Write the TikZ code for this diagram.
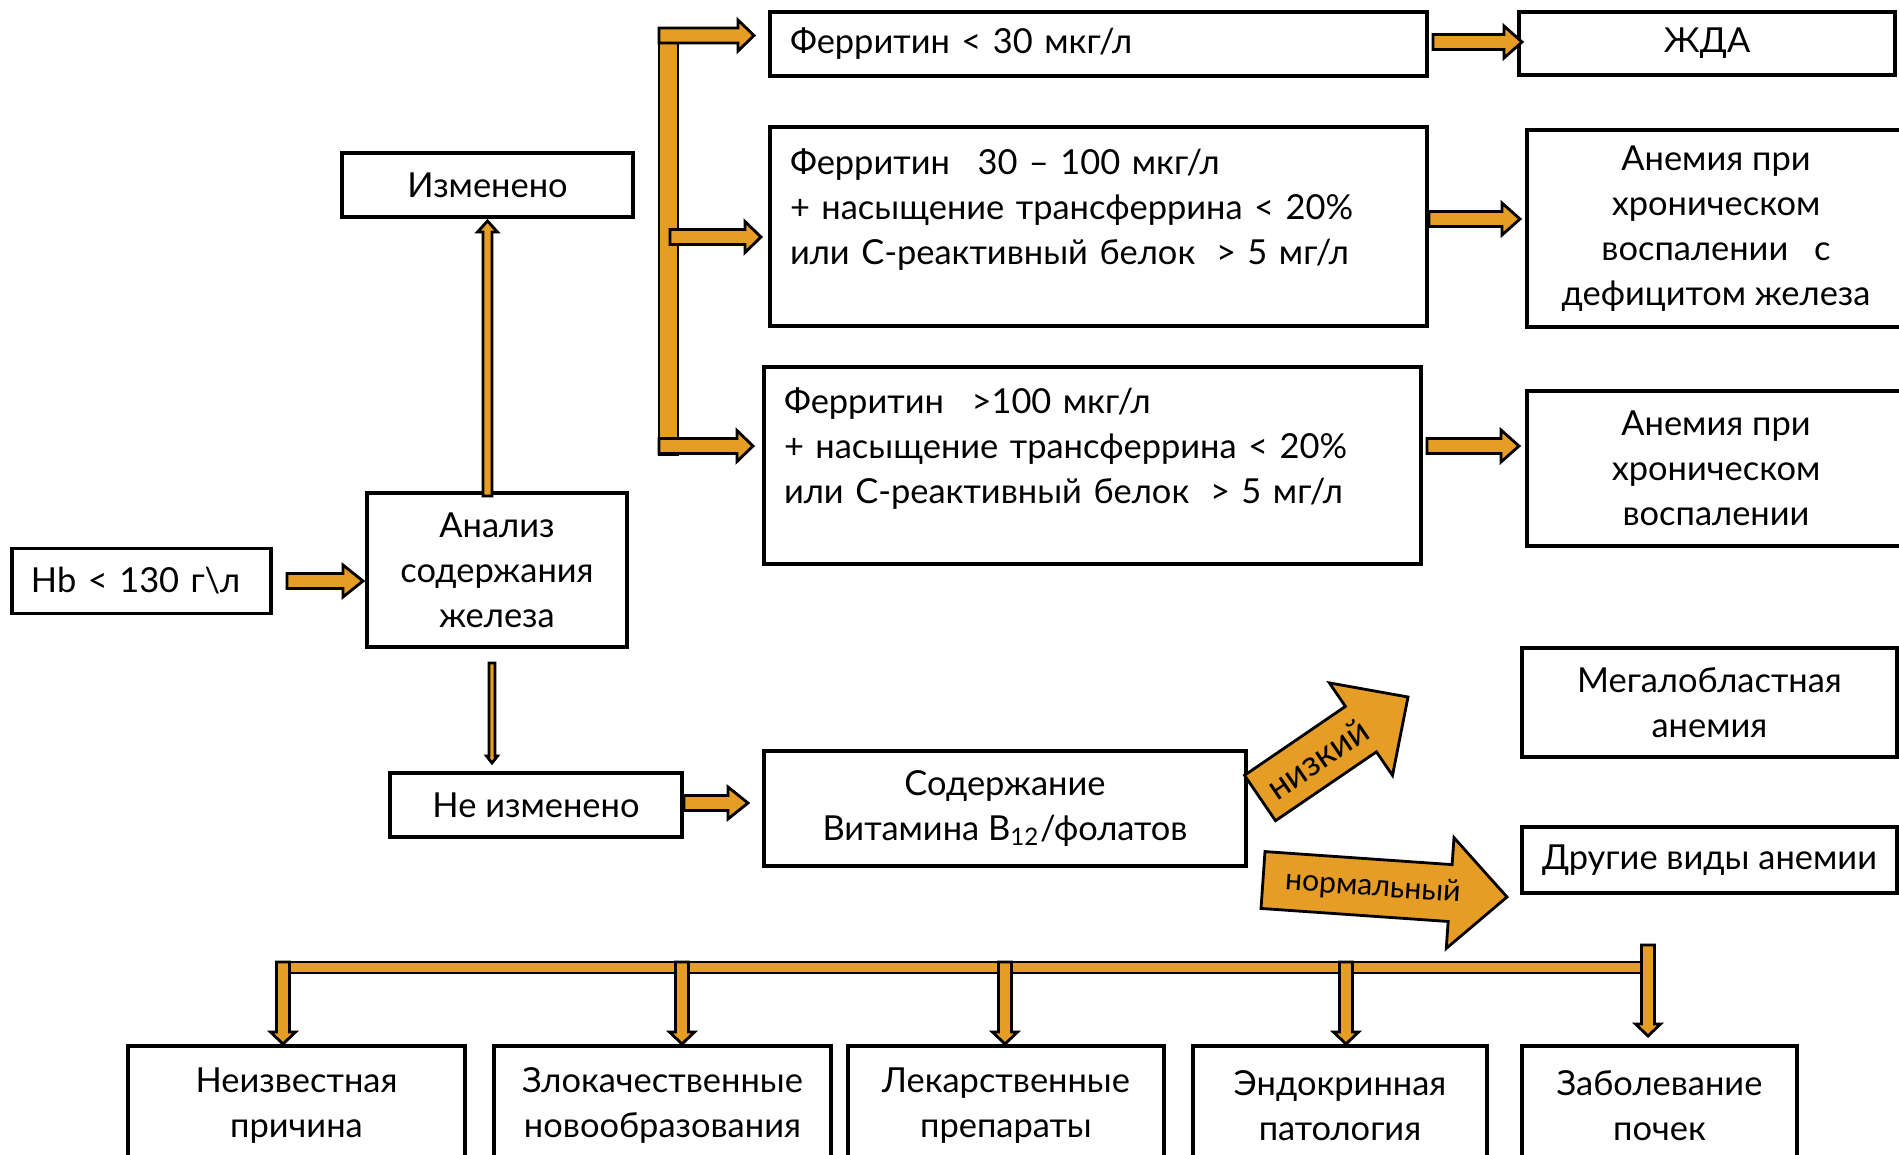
\documentclass[tikz,border=0pt]{standalone}
\usepackage{fontspec}
\newfontfamily\chartfont{Lato}
\definecolor{arrowfill}{cmyk}{0.00,0.33,0.86,0.09}
\usepackage{tikz}
\usetikzlibrary{calc}
\tikzstyle{chart}=[inner sep=0pt, outer sep=0pt]
\tikzstyle{cell}=[draw=black, line width=1pt, align=center, inner sep=0pt]
\tikzstyle{barrow}=[draw=black, fill=arrowfill, line width=0.8pt, line join=miter]
% tail, tip, half shaft, half head, head length
\newcommand*{\blockarrow}[5]{%
  \coordinate (hd) at ($(#2)!#5!(#1)$);
  \filldraw[barrow] ($(#1)!#3!90:(#2)$) -- ($(hd)!#3!90:(#2)$) -- ($(hd)!#4!90:(#2)$) -- (#2)
    -- ($(hd)!#4!-90:(#2)$) -- ($(hd)!#3!-90:(#2)$) -- ($(#1)!#3!-90:(#2)$) -- cycle;
}

\begin{document}
\begin{tikzpicture}[chart]
    \chartfont \fontsize{9.8}{12.8}\selectfont
        \path [use as bounding box] (0,0) rectangle (18.99,-11.54);
        % left column
        \node [cell, minimum width=2.59cm, minimum height=0.65cm, text width=2.21cm, align=left] (hb) at (1.415,-5.81) {Hb < 130 г\textbackslash л};
        \node [cell, minimum width=2.60cm, minimum height=1.54cm] (anal) at (4.97,-5.70) {Анализ\\содержания\\железа};
        \node [cell, minimum width=2.91cm, minimum height=0.64cm] (izm) at (4.875,-1.85) {Изменено};
        \node [cell, minimum width=2.92cm, minimum height=0.64cm] (neizm) at (5.36,-8.05) {Не изменено};
        % ferritin
        \node [cell, minimum width=6.57cm, minimum height=0.64cm, text width=6.17cm, align=left] (f1) at (10.985,-0.44) {Ферритин < 30 мкг/л};
        \node [cell, minimum width=6.57cm, minimum height=1.99cm, text width=6.17cm, align=left] (f2) at (10.985,-2.265)
            {Ферритин\hspace{0.8em}30 – 100 мкг/л\\+ насыщение трансферрина < 20\%\\или С-реактивный белок\hspace{0.6em}> 5 мг/л\\[-5.5pt]\strut};
        \node [cell, minimum width=6.57cm, minimum height=1.97cm, text width=6.17cm, align=left] (f3) at (10.925,-4.655)
            {Ферритин\hspace{0.8em}>100 мкг/л\\+ насыщение трансферрина < 20\%\\или С-реактивный белок\hspace{0.6em}> 5 мг/л\\[-5.5pt]\strut};
        % diagnoses
        \node [cell, minimum width=3.76cm, minimum height=0.63cm] (zhda) at (17.07,-0.435) {ЖДА};
        \node [cell, minimum width=3.78cm, minimum height=1.97cm] (ahv1) at (17.16,-2.285) {Анемия при\\хроническом\\воспалении\hspace{0.75em}с\\дефицитом железа};
        \node [cell, minimum width=3.78cm, minimum height=1.55cm] (ahv2) at (17.16,-4.685) {Анемия при\\хроническом\\воспалении};
        \node [cell, minimum width=4.82cm, minimum height=1.15cm] (vit) at (10.05,-8.085) {Содержание\\Витамина B\textsubscript{12}/фолатов};
        \node [cell, minimum width=3.75cm, minimum height=1.09cm] (mega) at (17.095,-7.025) {Мегалобластная\\анемия};
        \node [cell, minimum width=3.75cm, minimum height=0.66cm] (other) at (17.095,-8.60) {Другие виды анемии};
        % causes
        \node [cell, minimum width=3.37cm, minimum height=1.19cm] (b1) at (2.965,-11.055) {Неизвестная\\причина};
        \node [cell, minimum width=3.37cm, minimum height=1.19cm] (b2) at (6.625,-11.055) {Злокачественные\\новообразования};
        \node [cell, minimum width=3.16cm, minimum height=1.19cm] (b3) at (10.06,-11.055) {Лекарственные\\препараты};
        \node [cell, minimum width=2.94cm, minimum height=1.19cm] (b4) at (13.40,-11.055) {Эндокринная\\патология};
        \node [cell, minimum width=2.75cm, minimum height=1.19cm] (b5) at (16.595,-11.055) {Заболевание\\почек};

        % left arrows
        \coordinate (hbout) at ($(hb.east)+(0.16,0)$);
        \coordinate (analin) at ($(anal.west |- hb.east)+(-0.04,0)$);
        \blockarrow{hbout}{analin}{0.075cm}{0.16cm}{0.2cm}
        \coordinate (analup) at ($(izm.south |- anal.north)+(0,-0.03)$);
        \coordinate (izmin) at ($(izm.south)+(0,-0.04)$);
        \blockarrow{analup}{izmin}{0.045cm}{0.1cm}{0.11cm}
        \coordinate (analdown) at ($(anal.south)+(-0.05,-0.16)$);
        \coordinate (neizmin) at ($(analdown |- neizm.north)+(0,0.10)$);
        \blockarrow{analdown}{neizmin}{0.03cm}{0.055cm}{0.07cm}
        \coordinate (neizmout) at ($(neizm.east)+(0.02,0.02)$);
        \coordinate (vitin) at ($(vit.west |- neizmout)+(-0.16,0)$);
        \blockarrow{neizmout}{vitin}{0.075cm}{0.16cm}{0.2cm}

        % bracket
        \coordinate (brtop) at (6.685,-0.28);
        \coordinate (brbot) at (6.685,-4.55);
        \filldraw [barrow] ($(brtop)+(-0.095,0)$) rectangle ($(brbot)+(0.095,0)$);
        \coordinate (br1) at (6.59,-0.355);
        \coordinate (f1in) at ($(f1.west |- br1)+(-0.16,0)$);
        \blockarrow{br1}{f1in}{0.075cm}{0.155cm}{0.16cm}
        \coordinate (br2) at (6.70,-2.37);
        \coordinate (f2in) at ($(f2.west |- br2)+(-0.09,0)$);
        \blockarrow{br2}{f2in}{0.075cm}{0.155cm}{0.16cm}
        \coordinate (br3) at (6.59,-4.46);
        \coordinate (f3in) at ($(f3.west |- br3)+(-0.11,0)$);
        \blockarrow{br3}{f3in}{0.075cm}{0.155cm}{0.16cm}

        % right arrows
        \coordinate (f1out) at ($(f1.east)+(0.06,0.02)$);
        \coordinate (zhdain) at ($(zhda.west |- f1out)+(0.03,0)$);
        \blockarrow{f1out}{zhdain}{0.075cm}{0.16cm}{0.18cm}
        \coordinate (f2out) at ($(f2.east)+(0.02,0.075)$);
        \coordinate (ahv1in) at ($(ahv1.west |- f2out)+(-0.07,0)$);
        \blockarrow{f2out}{ahv1in}{0.075cm}{0.16cm}{0.18cm}
        \coordinate (f3out) at ($(f3.east)+(0.06,0.195)$);
        \coordinate (ahv2in) at ($(ahv2.west |- f3out)+(-0.08,0)$);
        \blockarrow{f3out}{ahv2in}{0.075cm}{0.16cm}{0.18cm}

        % low / normal
        \coordinate (lowA) at (12.60,-7.98);
        \coordinate (lowB) at (14.08,-6.97);
        \blockarrow{lowA}{lowB}{0.275cm}{0.56cm}{0.57cm}
        \path (lowA) -- (lowB) node [pos=0.39, sloped, font=\fontsize{10}{12}\selectfont] (lowlbl) {низкий};
        \coordinate (normA) at (12.63,-8.80);
        \coordinate (normB) at (15.07,-8.97);
        \blockarrow{normA}{normB}{0.285cm}{0.555cm}{0.57cm}
        \path (normA) -- (normB) node [pos=0.45, sloped, font=\fontsize{8.6}{10}\selectfont] (normlbl) {нормальный};

        % bottom bar
        \coordinate (barL) at (2.79,-9.675);
        \coordinate (barR) at (16.50,-9.675);
        \filldraw [barrow] ($(barL)+(0,0.055)$) rectangle ($(barR)+(0,-0.055)$);
        \coordinate (d1) at (2.83,-9.62);
        \coordinate (b1in) at ($(d1 |- b1.north)+(0,0.02)$);
        \blockarrow{d1}{b1in}{0.065cm}{0.125cm}{0.12cm}
        \coordinate (d2) at (6.82,-9.62);
        \coordinate (b2in) at ($(d2 |- b2.north)+(0,0.02)$);
        \blockarrow{d2}{b2in}{0.065cm}{0.125cm}{0.12cm}
        \coordinate (d3) at (10.05,-9.62);
        \coordinate (b3in) at ($(d3 |- b3.north)+(0,0.02)$);
        \blockarrow{d3}{b3in}{0.065cm}{0.125cm}{0.12cm}
        \coordinate (d4) at (13.46,-9.62);
        \coordinate (b4in) at ($(d4 |- b4.north)+(0,0.02)$);
        \blockarrow{d4}{b4in}{0.065cm}{0.125cm}{0.12cm}
        \coordinate (d5) at (16.48,-9.45);
        \coordinate (b5in) at ($(d5 |- b5.north)+(0,0.10)$);
        \blockarrow{d5}{b5in}{0.065cm}{0.125cm}{0.12cm}
    \end{tikzpicture}
\end{document}
